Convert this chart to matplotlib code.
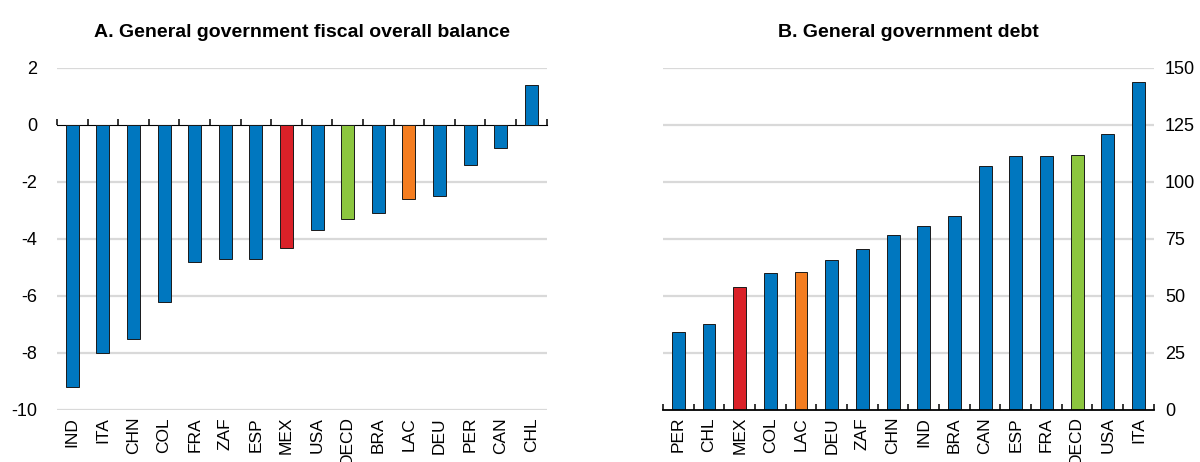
import numpy as np
import matplotlib.pyplot as plt

plt.rcParams['font.family'] = ['Liberation Sans', 'DejaVu Sans']
plt.rcParams['axes.unicode_minus'] = False

# Panel A: fiscal overall balance (% of GDP)
balance_countries = ["IND", "ITA", "CHN", "COL", "FRA", "ZAF", "ESP", "MEX",
                     "USA", "OECD", "BRA", "LAC", "DEU", "PER", "CAN", "CHL"]
balance_values = [-9.2, -8.0, -7.5, -6.2, -4.8, -4.7, -4.7, -4.3,
                  -3.7, -3.3, -3.1, -2.6, -2.5, -1.4, -0.8, 1.4]

# Panel B: general government debt (% of GDP)
debt_countries = ["PER", "CHL", "MEX", "COL", "LAC", "DEU", "ZAF", "CHN",
                  "IND", "BRA", "CAN", "ESP", "FRA", "OECD", "USA", "ITA"]
debt_values = [34.2, 37.9, 53.9, 60.1, 60.4, 65.8, 70.8, 76.7,
               80.8, 85.2, 107.0, 111.4, 111.5, 111.8, 121.2, 143.9]

BLUE = "#0077bf"
RED = "#da2128"
GREEN = "#8cc63f"
ORANGE = "#f47d20"
GRID = "#d9d9d9"
highlight = {"MEX": RED, "OECD": GREEN, "LAC": ORANGE}


def bar_colors(names):
    return [highlight.get(n, BLUE) for n in names]


fig = plt.figure(figsize=(12, 4.62), dpi=100)
ax1 = fig.add_axes([0.0475, 0.1126, 0.408, 0.7403])
ax2 = fig.add_axes([0.5525, 0.1126, 0.409, 0.7403])

# ---- Panel A
x1 = np.arange(len(balance_countries))
ax1.bar(x1, balance_values, width=0.42, color=bar_colors(balance_countries),
        edgecolor="#1a1a1a", linewidth=0.7, zorder=3)
ax1.set_xlim(-0.5, len(x1) - 0.5)
ax1.set_ylim(-10, 2)
ax1.set_yticks([2, 0, -2, -4, -6, -8, -10])
for v in [2, -2, -4, -6, -8, -10]:
    ax1.axhline(v, color=GRID, linewidth=1.6, zorder=1)
for s in ax1.spines.values():
    s.set_visible(False)
ax1.set_xticks(x1)
ax1.set_xticklabels(balance_countries, rotation=90)
ax1.tick_params(axis="x", length=0, pad=5, labelsize=12.5)
ax1.tick_params(axis="y", length=0, pad=14, labelsize=13)

# zero line with tick marks between bars
zero_pos = (0 - (-10)) / 12
sec = ax1.secondary_xaxis(zero_pos)
sec.spines["bottom"].set_linewidth(1.3)
sec.set_xticks(np.arange(-0.5, len(x1), 1.0))
sec.set_xticklabels([])
sec.tick_params(axis="x", direction="out", length=4.5, width=1.1)

ax1.set_title("A. General government fiscal overall balance",
              fontsize=14, fontweight="bold", pad=22)

# ---- Panel B
x2 = np.arange(len(debt_countries))
ax2.bar(x2, debt_values, width=0.42, color=bar_colors(debt_countries),
        edgecolor="#1a1a1a", linewidth=0.7, zorder=3)
ax2.set_xlim(-0.5, len(x2) - 0.5)
ax2.set_ylim(0, 150)
ax2.set_yticks([0, 25, 50, 75, 100, 125, 150])
for v in [25, 50, 75, 100, 125, 150]:
    ax2.axhline(v, color=GRID, linewidth=1.6, zorder=1)
for k in ["top", "left", "right"]:
    ax2.spines[k].set_visible(False)
ax2.spines["bottom"].set_linewidth(1.3)
ax2.spines["bottom"].set_zorder(4)
ax2.yaxis.tick_right()
ax2.set_xticks(x2)
ax2.set_xticklabels(debt_countries, rotation=90)
ax2.set_xticks(np.arange(-0.5, len(x2), 1.0), minor=True)
ax2.tick_params(axis="x", which="major", length=0, pad=5, labelsize=12.5)
ax2.tick_params(axis="x", which="minor", direction="in", length=4.5, width=1.1)
ax2.tick_params(axis="y", length=0, pad=8, labelsize=13)

ax2.set_title("B. General government debt",
              fontsize=14, fontweight="bold", pad=22)

fig.savefig("out.png", dpi=100)
